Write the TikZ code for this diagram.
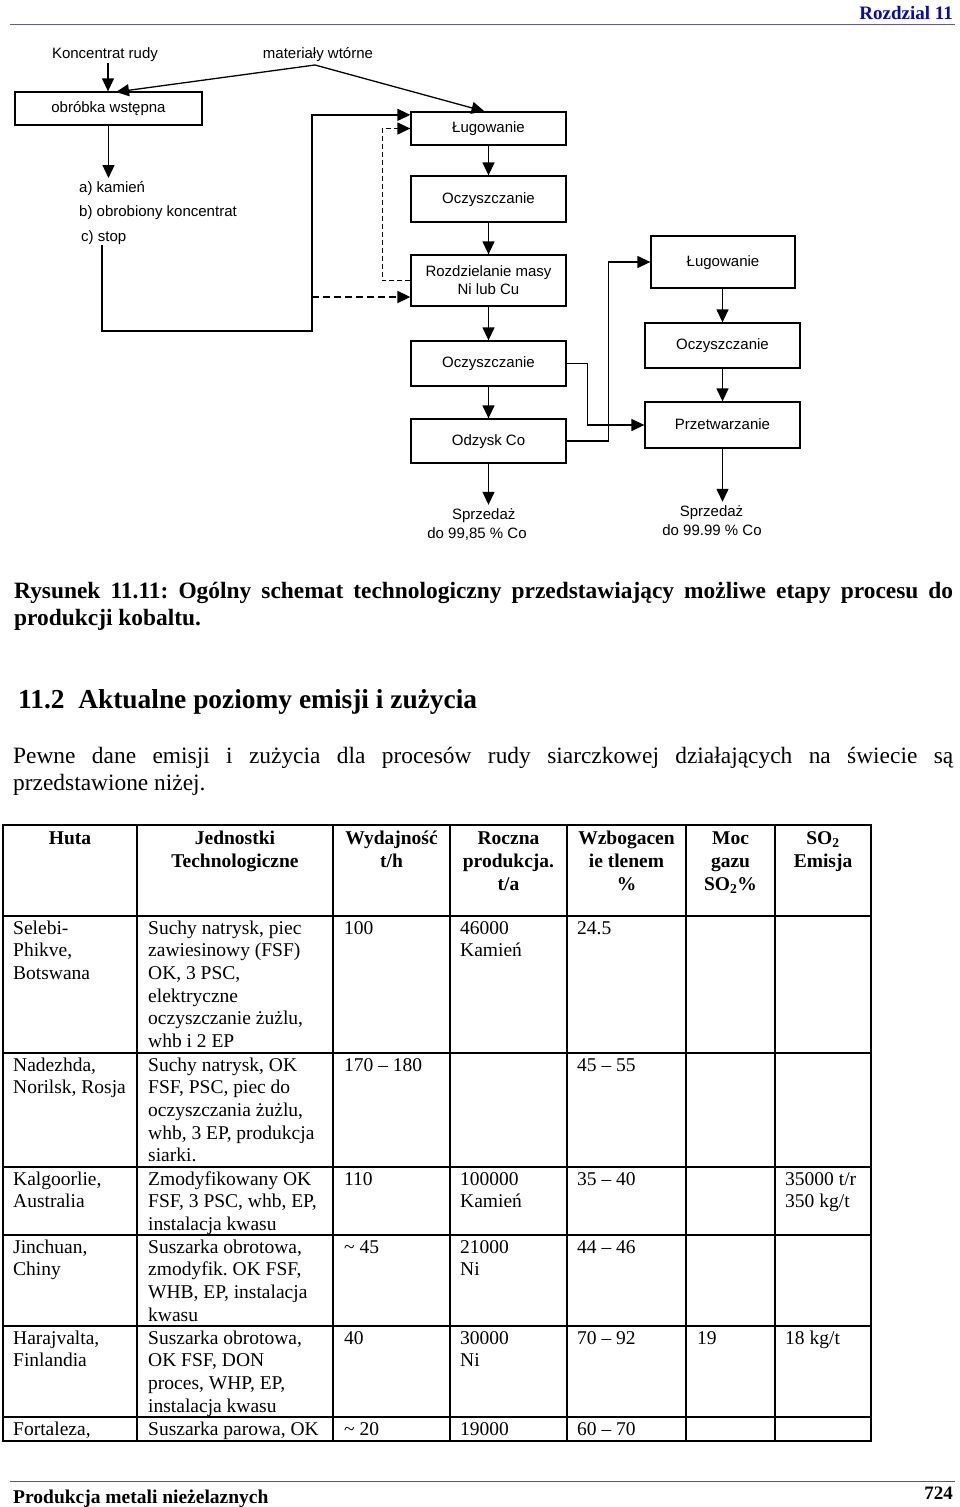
\documentclass[tikz,border=0pt]{standalone}
\usepackage{fontspec}
\setmainfont{Liberation Serif}
\newfontfamily\arialf{Liberation Sans}
\usetikzlibrary{arrows.meta,calc}
\definecolor{hdrblue}{RGB}{10,10,180}
\definecolor{hdrline}{RGB}{90,90,170}
\definecolor{ftrline}{RGB}{90,90,90}
\newcommand\tcell[1]{\begin{tabular}[t]{@{}l@{}}#1\end{tabular}}
\newcommand\hcell[1]{\begin{tabular}[t]{@{}c@{}}#1\end{tabular}}
\frenchspacing
\begin{document}
\begin{tikzpicture}[x=1pt,y=-1pt,
  box/.style={draw, line width=1.3pt, inner sep=0pt, font=\arialf\fontsize{15}{18}\selectfont, align=center},
  onel/.style={text height=11pt, text depth=3pt},
  lbl/.style={inner sep=0pt, font=\arialf\fontsize{15}{18}\selectfont, text height=11pt, text depth=3pt},
  lblw/.style={inner sep=0pt, font=\arialf\fontsize{15}{18}\selectfont, anchor=base west},
  arr/.style={line width=1.3pt, -{Triangle[length=13pt,width=12pt]}},
  dasharr/.style={arr, dash pattern=on 5pt off 3pt},
  dasharrb/.style={line width=1.8pt, dash pattern=on 7pt off 4pt, -{Triangle[length=13pt,width=12pt]}},
  tline/.style={line width=1.3pt},
  tcellnode/.style={anchor=base west, inner sep=0pt, font=\fontsize{19.5}{22.7}\selectfont},
  hcellnode/.style={anchor=base, inner sep=0pt, font=\bfseries\fontsize{19.5}{23}\selectfont},
]
\useasboundingbox[fill=white] (0,0) rectangle (960,1507);

% ---------- page header ----------
\node[anchor=base east, inner sep=0pt, text=hdrblue, font=\bfseries\fontsize{19}{22}\selectfont] (hdr) at (953,19.5) {Rozdzial 11};
\draw[hdrline, line width=1.5pt] (10,24.5) -- (955,24.5);

% ---------- flowchart ----------
\node[lbl] (kr) at (105,54) {Koncentrat rudy};
\node[lbl] (mw) at (318,54) {materiały wtórne};
\coordinate (krs) at (108,63);
\coordinate (mat) at (315,65);

\node[box, onel, minimum width=187pt, minimum height=33pt] (obr) at (108.5,108.5) {obróbka wstępna};
\node[box, onel, minimum width=155pt, minimum height=33pt] (lug1) at (488.5,128.5) {Ługowanie};
\node[box, onel, minimum width=155pt, minimum height=46pt] (ocz1) at (488.5,199) {Oczyszczanie};
\node[box, minimum width=155pt, minimum height=51pt] (rozdz) at (488.5,280.5) {Rozdzielanie masy\\Ni lub Cu};
\node[box, onel, minimum width=155pt, minimum height=45pt] (ocz2) at (488.5,363.5) {Oczyszczanie};
\node[box, onel, minimum width=155pt, minimum height=44pt] (odz) at (488.5,441) {Odzysk Co};

\node[box, onel, minimum width=144pt, minimum height=52pt] (lugR) at (723,262) {Ługowanie};
\node[box, onel, minimum width=155pt, minimum height=45pt] (oczR) at (722.5,345.5) {Oczyszczanie};
\node[box, onel, minimum width=155pt, minimum height=46pt] (prz) at (722.5,425) {Przetwarzanie};

\node[lblw] (ta) at (79,192) {a) kamień};
\node[lblw] (tb) at (79,216) {b) obrobiony koncentrat};
\node[lblw] (tc) at (81,241) {c) stop};

\node[lbl] (s1a) at (483.7,515) {Sprzedaż};
\node[lbl] (s1b) at (477,534) {do 99,85 \% Co};
\node[lbl] (s2a) at (711.5,512) {Sprzedaż};
\node[lbl] (s2b) at (712,531) {do 99.99 \% Co};

% top inputs
\draw[arr] (krs) -- (krs |- obr.north);
\draw[arr] (mat) -- (116,92);
\draw[arr] (mat) -- ($(lug1.north)+(-4,0)$);
\draw[arr] (obr.south) -- (108.5,178);

% main column
\draw[arr] (lug1.south) -- (ocz1.north);
\draw[arr] (ocz1.south) -- (rozdz.north);
\draw[arr] (rozdz.south) -- (ocz2.north);
\draw[arr] (ocz2.south) -- (odz.north);
\draw[arr] (odz.south) -- ($(odz.south |- s1a.north)+(0,-3)$);

% right column
\draw[arr] (oczR.north |- lugR.south) -- (oczR.north);
\draw[arr] (oczR.south) -- (prz.north);
\draw[arr] (prz.south) -- ($(prz.south |- s2a.north)+(0,-3)$);

% cross connections
\draw[arr] (odz.east) -- ++(42,0) |- (lugR.west);
\draw[arr] (ocz2.east) -- ++(21,0) |- (prz.west);

% loop from c) stop to Ługowanie
\coordinate (stopc) at (102,245);
\coordinate (loopbl) at (102,331);
\coordinate (loopbr) at (312,331);
\coordinate (lugin) at ($(lug1.north west)+(0,3.5)$);
\draw[arr] (stopc) -- (loopbl) -- (loopbr) |- (lugin);
% dashed returns
\draw[dasharr] (rozdz.west) -- ++(-28,0) |- (lug1.west);
\coordinate (dstart) at (312,297);
\draw[dasharrb] (dstart) -- (dstart -| rozdz.west);

% ---------- caption ----------
\node[anchor=base west, inner sep=0pt, font=\bfseries\fontsize{23.4}{27}\selectfont] (cap1) at (14,598.5)
  {\makebox[939pt][s]{Rysunek 11.11: Ogólny schemat technologiczny przedstawiający możliwe etapy procesu do}};
\node[anchor=base west, inner sep=0pt, font=\bfseries\fontsize{23.4}{27}\selectfont] (cap2) at (14,625.5) {produkcji kobaltu.};

% ---------- section heading ----------
\node[anchor=base west, inner sep=0pt, font=\bfseries\fontsize{27.4}{32}\selectfont] (sec) at (18,708.5)
  {11.2\hspace{0.5em}Aktualne poziomy emisji i zużycia};

% ---------- paragraph ----------
\node[anchor=base west, inner sep=0pt, font=\fontsize{23.4}{27}\selectfont] (par1) at (13,763)
  {\makebox[940pt][s]{Pewne dane emisji i zużycia dla procesów rudy siarczkowej działających na świecie są}};
\node[anchor=base west, inner sep=0pt, font=\fontsize{23.4}{27}\selectfont] (par2) at (13,790) {przedstawione niżej.};

% ---------- table ----------
\foreach \cx in {137,333,450,567,686,775} \draw[tline] (\cx,825) -- (\cx,1441);
\foreach \ry in {1053,1167,1235,1326,1417} \draw[tline] (3,\ry) -- (871,\ry);
\draw[line width=2pt] (3,916) -- (871,916);
\draw[line width=2.6pt] (3,825) rectangle (871,1441);

% header
\node[hcellnode] (h1) at (70,844.5) {\hcell{Huta}};
\node[hcellnode] (h2) at (235,844.5) {\hcell{Jednostki\\Technologiczne}};
\node[hcellnode] (h3) at (391.5,844.5) {\hcell{Wydajność\\t/h}};
\node[hcellnode] (h4) at (508.5,844.5) {\hcell{Roczna\\produkcja.\\t/a}};
\node[hcellnode] (h5) at (626.5,844.5) {\hcell{Wzbogacen\\ie tlenem\\\%}};
\node[hcellnode] (h6) at (730.5,844.5) {\hcell{Moc\\gazu\\SO\textsubscript{2}\%}};
\node[hcellnode] (h7) at (823,844.5) {\hcell{SO\textsubscript{2}\\Emisja}};

% row 1
\node[tcellnode] (r1a) at (13,934) {\tcell{Selebi-\\Phikve,\\Botswana}};
\node[tcellnode] (r1b) at (148,934) {\tcell{Suchy natrysk, piec\\zawiesinowy (FSF)\\OK, 3 PSC,\\elektryczne\\oczyszczanie żużlu,\\whb i 2 EP}};
\node[tcellnode] (r1c) at (344,934) {\tcell{100}};
\node[tcellnode] (r1d) at (460,934) {\tcell{46000\\Kamień}};
\node[tcellnode] (r1e) at (577,934) {\tcell{24.5}};
% row 2
\node[tcellnode] (r2a) at (13,1071) {\tcell{Nadezhda,\\Norilsk, Rosja}};
\node[tcellnode] (r2b) at (148,1071) {\tcell{Suchy natrysk, OK\\FSF, PSC, piec do\\oczyszczania żużlu,\\whb, 3 EP, produkcja\\siarki.}};
\node[tcellnode] (r2c) at (344,1071) {\tcell{170 – 180}};
\node[tcellnode] (r2e) at (577,1071) {\tcell{45 – 55}};
% row 3
\node[tcellnode] (r3a) at (13,1185) {\tcell{Kalgoorlie,\\Australia}};
\node[tcellnode] (r3b) at (148,1185) {\tcell{Zmodyfikowany OK\\FSF, 3 PSC, whb, EP,\\instalacja kwasu}};
\node[tcellnode] (r3c) at (344,1185) {\tcell{110}};
\node[tcellnode] (r3d) at (460,1185) {\tcell{100000\\Kamień}};
\node[tcellnode] (r3e) at (577,1185) {\tcell{35 – 40}};
\node[tcellnode] (r3g) at (785,1185) {\tcell{35000 t/r\\350 kg/t}};
% row 4
\node[tcellnode] (r4a) at (13,1253) {\tcell{Jinchuan,\\Chiny}};
\node[tcellnode] (r4b) at (148,1253) {\tcell{Suszarka obrotowa,\\zmodyfik. OK FSF,\\WHB, EP, instalacja\\kwasu}};
\node[tcellnode] (r4c) at (344,1253) {\tcell{\textasciitilde\ 45}};
\node[tcellnode] (r4d) at (460,1253) {\tcell{21000\\Ni}};
\node[tcellnode] (r4e) at (577,1253) {\tcell{44 – 46}};
% row 5
\node[tcellnode] (r5a) at (13,1344) {\tcell{Harajvalta,\\Finlandia}};
\node[tcellnode] (r5b) at (148,1344) {\tcell{Suszarka obrotowa,\\OK FSF, DON\\proces, WHP, EP,\\instalacja kwasu}};
\node[tcellnode] (r5c) at (344,1344) {\tcell{40}};
\node[tcellnode] (r5d) at (460,1344) {\tcell{30000\\Ni}};
\node[tcellnode] (r5e) at (577,1344) {\tcell{70 – 92}};
\node[tcellnode] (r5f) at (697,1344) {\tcell{19}};
\node[tcellnode] (r5g) at (785,1344) {\tcell{18 kg/t}};
% row 6
\node[tcellnode] (r6a) at (13,1435) {\tcell{Fortaleza,}};
\node[tcellnode] (r6b) at (148,1435) {\tcell{Suszarka parowa, OK}};
\node[tcellnode] (r6c) at (344,1435) {\tcell{\textasciitilde\ 20}};
\node[tcellnode] (r6d) at (460,1435) {\tcell{19000}};
\node[tcellnode] (r6e) at (577,1435) {\tcell{60 – 70}};

% ---------- footer ----------
\draw[ftrline, line width=1.3pt] (10,1481.5) -- (955,1481.5);
\node[anchor=base west, inner sep=0pt, font=\bfseries\fontsize{19.5}{23}\selectfont] (ftl) at (13,1503) {Produkcja metali nieżelaznych};
\node[anchor=base east, inner sep=0pt, font=\bfseries\fontsize{19}{23}\selectfont] (ftr) at (953,1499.5) {724};
\end{tikzpicture}
\end{document}
